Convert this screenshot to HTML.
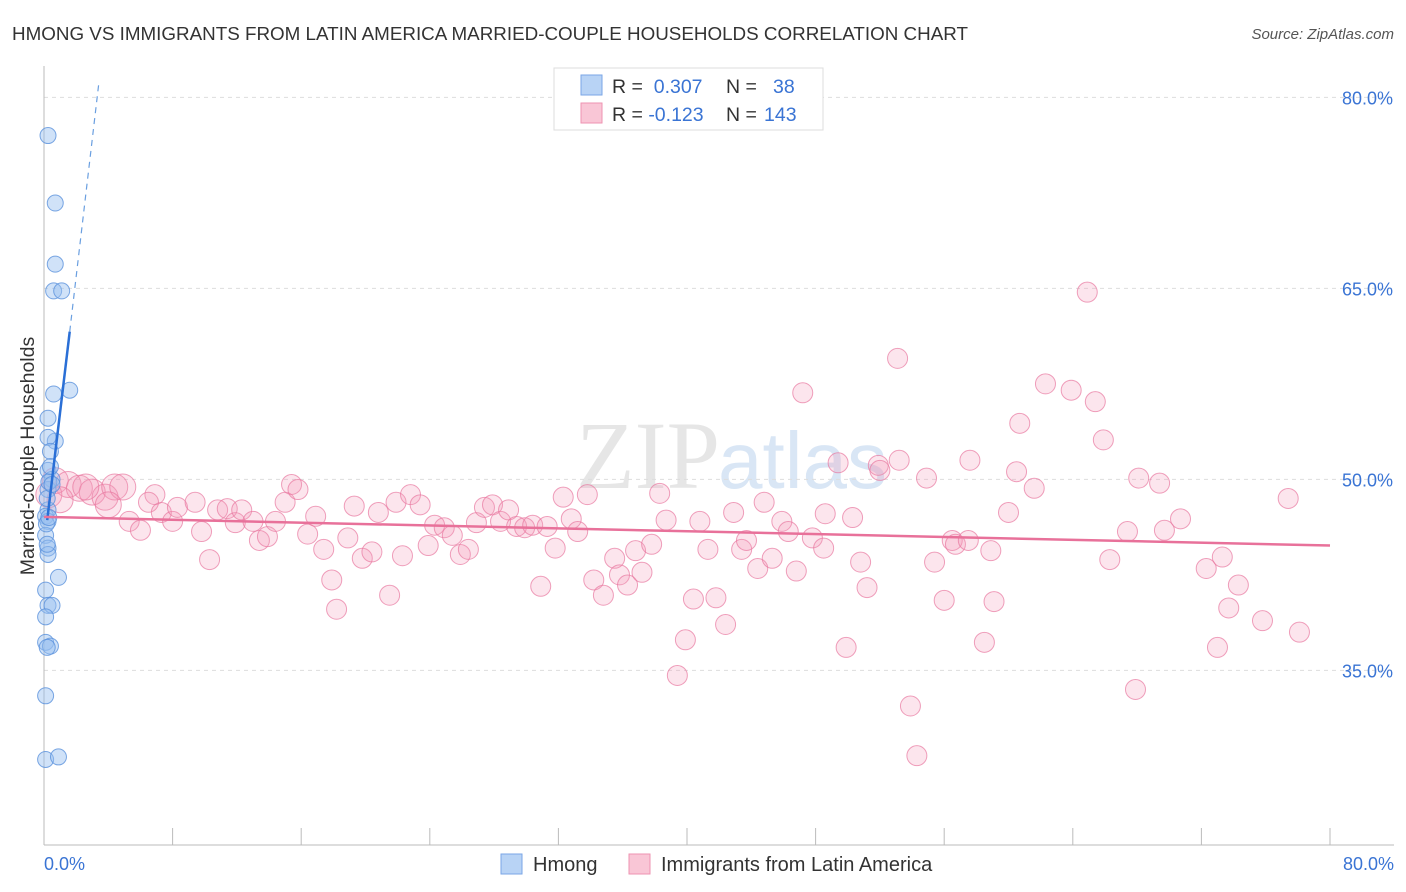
<!DOCTYPE html>
<html><head><meta charset="utf-8"><style>
body{margin:0;background:#fff;font-family:"Liberation Sans",sans-serif;}
svg{display:block}
</style></head><body>
<svg id="chart" width="1406" height="892">
<text x="12" y="40" font-size="18.5" fill="#333" textLength="956" lengthAdjust="spacingAndGlyphs">HMONG VS IMMIGRANTS FROM LATIN AMERICA MARRIED-COUPLE HOUSEHOLDS CORRELATION CHART</text>
<text x="1394" y="39" font-size="15" fill="#555" font-style="italic" text-anchor="end">Source: ZipAtlas.com</text>
<text x="720" y="488" font-size="96" fill="#e6e6e6" text-anchor="end" font-family="Liberation Serif,serif">ZIP</text>
<text x="718" y="488" font-size="80" fill="#d9e6f5">atlas</text>
<g id="grid"></g><g id="axes"></g><g id="pts"></g><g id="lines"></g>
<text transform="translate(34,456) rotate(-90)" font-size="19.5" fill="#333" text-anchor="middle">Married-couple Households</text>
<text x="44" y="870" font-size="18" fill="#3a74d4">0.0%</text>
<text x="1394" y="870" font-size="18" fill="#3a74d4" text-anchor="end">80.0%</text>
<g>
<rect x="554" y="68" width="269" height="62" fill="#fff" stroke="#ddd"/>
<rect x="581" y="75" width="21" height="20" fill="#b8d3f5" stroke="#7aa6e6"/>
<rect x="581" y="103" width="21" height="20" fill="#f9c6d6" stroke="#ee93b1"/>
<text x="612" y="93" font-size="19.5" fill="#333">R = <tspan fill="#3a74d4">&#160;0.307</tspan><tspan x="726">N = </tspan><tspan x="773" fill="#3a74d4">38</tspan></text>
<text x="612" y="121" font-size="19.5" fill="#333">R = <tspan fill="#3a74d4">-0.123</tspan><tspan x="726">N = </tspan><tspan x="764" fill="#3a74d4">143</tspan></text>
</g>
<g>
<rect x="501" y="854" width="21" height="20" fill="#b8d3f5" stroke="#7aa6e6"/>
<text x="533" y="871" font-size="20" fill="#333">Hmong</text>
<rect x="629" y="854" width="21" height="20" fill="#f9c6d6" stroke="#ee93b1"/>
<text x="661" y="871" font-size="20" fill="#333">Immigrants from Latin America</text>
</g>
</svg>
<script>
const yTicks=[35,50,65,80];
const yTickLabels=["35.0%","50.0%","65.0%","80.0%"];
const xTicks=[0,8,16,24,32,40,48,56,64,72,80];
const blueX=[0.25,0.7,0.7,0.6,1.1,1.6,0.6,0.25,0.7,0.25,0.4,0.25,0.5,0.25,0.25,0.1,0.25,0.1,0.25,0.25,0.9,0.1,0.25,0.5,0.1,0.1,0.4,0.1,0.1,0.9,0.3,0.2,0.4,0.15,0.3,0.2,0.5,0.2];
const blueY=[77.0,71.7,66.9,64.8,64.8,57.0,56.7,54.8,53.0,53.3,52.2,50.7,50.0,49.2,47.6,47.1,46.7,45.6,44.6,44.1,42.3,41.3,40.1,40.1,39.2,37.2,36.9,33.0,28.0,28.2,49.8,48.5,51.0,46.5,47.0,44.9,49.6,36.8];
const pinkX=[0.7,1.5,2.2,3.0,3.8,4.4,4.9,5.3,6.0,6.9,6.5,7.3,8.0,8.3,9.4,9.8,10.3,10.8,11.4,11.9,12.3,13.0,13.4,13.9,14.4,15.0,15.4,15.8,16.4,16.9,17.4,17.9,18.2,18.9,19.3,19.8,20.4,20.8,21.5,21.9,22.3,22.8,23.4,23.9,24.3,24.9,25.4,25.9,26.4,26.9,27.4,27.9,28.4,28.9,29.4,29.9,30.4,30.9,31.3,31.8,32.3,32.8,33.2,33.8,34.2,34.8,35.5,35.8,36.3,36.8,37.2,37.8,38.3,38.7,39.4,39.9,40.4,40.8,41.3,41.8,42.4,42.9,43.4,43.7,44.4,44.8,45.3,45.9,46.3,46.8,47.2,47.8,48.5,48.6,49.4,49.9,50.3,50.8,51.2,51.9,52.0,53.1,53.2,53.9,54.3,54.9,55.4,56.0,56.5,56.7,57.5,57.6,58.5,58.9,59.1,60.0,60.5,60.7,61.6,62.3,63.9,64.9,65.4,65.9,66.3,67.4,67.9,68.1,69.4,69.7,70.7,72.3,73.3,73.7,74.3,73.0,75.8,77.4,78.1,0.3,1.0,2.6,4.0];
const pinkY=[49.9,49.6,49.3,49.0,48.6,49.4,49.4,46.7,46.0,48.8,48.2,47.4,46.7,47.8,48.2,45.9,43.7,47.6,47.7,46.6,47.6,46.7,45.2,45.5,46.7,48.2,49.6,49.2,45.7,47.1,44.5,42.1,39.8,45.4,47.9,43.8,44.3,47.4,40.9,48.2,44.0,48.8,48.0,44.8,46.4,46.2,45.6,44.1,44.5,46.6,47.8,48.0,46.7,47.6,46.3,46.2,46.4,41.6,46.3,44.6,48.6,46.9,45.9,48.8,42.1,40.9,43.8,42.5,41.7,44.4,42.7,44.9,48.9,46.8,34.6,37.4,40.6,46.7,44.5,40.7,38.6,47.4,44.5,45.2,43.0,48.2,43.8,46.7,45.9,42.8,56.8,45.4,44.6,47.3,51.3,36.8,47.0,43.5,41.5,51.1,50.7,59.5,51.5,32.2,28.3,50.1,43.5,40.5,45.2,44.9,45.2,51.5,37.2,44.4,40.4,47.4,50.6,54.4,49.3,57.5,57.0,64.7,56.1,53.1,43.7,45.9,33.5,50.1,49.7,46.0,46.9,43.0,43.9,39.9,41.7,36.8,38.9,48.5,38.0,48.8,48.4,49.4,48.0];
const blueTrendX=[0.2,1.6,3.4];
const blueTrendY=[46.8,61.6,81.0];
const pinkTrendX=[0,80];
const pinkTrendY=[47.05,44.8];
const NS="http://www.w3.org/2000/svg";
const xs=v=>44+v*16.075;
const ys=v=>1116-v*12.733;
function mk(tag,attrs,parent){const e=document.createElementNS(NS,tag);for(const k in attrs)e.setAttribute(k,attrs[k]);document.getElementById(parent).appendChild(e);return e;}
yTicks.forEach((t,i)=>{
 const l=mk('line',{x1:44,x2:1394,y1:ys(t),y2:ys(t),stroke:'#ddd','stroke-dasharray':'4,4'},'grid');
 
 
 const tx=mk('text',{x:1393,y:ys(t)+7,'font-size':18,fill:'#3a74d4','text-anchor':'end'},'grid');
 tx.textContent=yTickLabels[i];
 
 
});
let a=mk('line',{x1:44,x2:44,y1:66,y2:845,stroke:'#bbb'},'axes');


a=mk('line',{x1:44,x2:1394,y1:845,y2:845,stroke:'#bbb'},'axes');


xTicks.forEach(t=>{
 const l=mk('line',{x1:xs(t),x2:xs(t),y1:828,y2:845,stroke:'#bbb'},'axes');
 
 
});
pinkX.forEach((x,i)=>{
 const r=x<5?13:10;
 const c=mk('circle',{cx:xs(x),cy:ys(pinkY[i]),r:r,fill:'rgba(244,150,182,0.25)',stroke:'rgba(232,120,160,0.7)','stroke-width':1},'pts');
 
 
});
blueX.forEach((x,i)=>{
 const c=mk('circle',{cx:xs(x),cy:ys(blueY[i]),r:8,fill:'rgba(150,190,240,0.45)',stroke:'rgba(90,145,220,0.8)','stroke-width':1},'pts');
 
 
});
let ln=mk('line',{x1:xs(blueTrendX[0]),y1:ys(blueTrendY[0]),x2:xs(blueTrendX[1]),y2:ys(blueTrendY[1]),stroke:'#2a6fd6','stroke-width':2.5},'lines');


ln=mk('line',{x1:xs(blueTrendX[1]),y1:ys(blueTrendY[1]),x2:xs(blueTrendX[2]),y2:ys(blueTrendY[2]),stroke:'#6a9fe0','stroke-width':1.2,'stroke-dasharray':'6,5'},'lines');


ln=mk('line',{x1:xs(pinkTrendX[0]),y1:ys(pinkTrendY[0]),x2:xs(pinkTrendX[1]),y2:ys(pinkTrendY[1]),stroke:'#e8719a','stroke-width':2.5},'lines');


</script>
</body></html>
